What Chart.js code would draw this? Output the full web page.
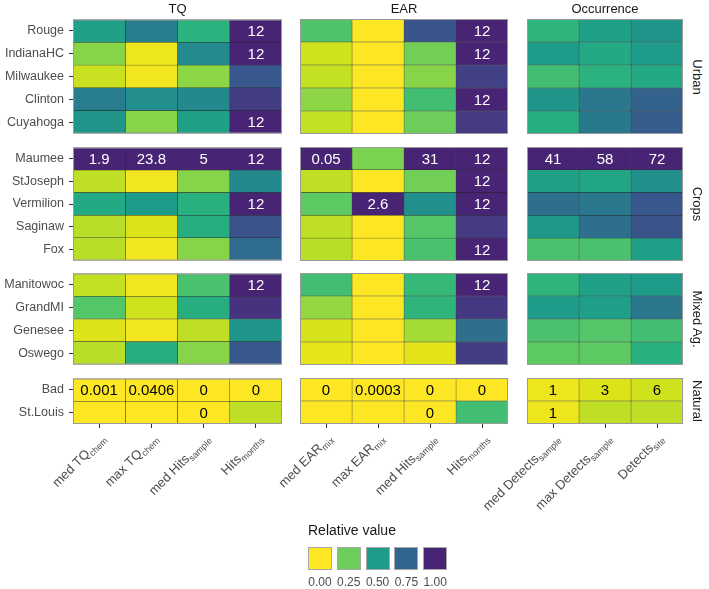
<!DOCTYPE html>
<html>
<head>
<meta charset="utf-8">
<script src="https://cdn.jsdelivr.net/npm/chart.js@4.4.0/dist/chart.umd.min.js"></script>
<style>
  body { margin: 0; background: #fff; font-family: "Liberation Sans", Arial, sans-serif; }
  #wrap { position: relative; width: 709px; height: 589px; overflow: hidden; }
  #wrap canvas { position: absolute; }
  .title { position: absolute; top: 1px; height: 16px; line-height: 16px; font-size: 13px; color: #1a1a1a; text-align: center; }
  .strip { position: absolute; width: 100px; height: 16px; line-height: 16px; font-size: 13px; color: #1a1a1a;
           text-align: center; white-space: nowrap; transform: rotate(90deg); }
  .legtitle { position: absolute; left: 308px; top: 522px; font-size: 14px; color: #1a1a1a; }
  .swatch { position: absolute; top: 547px; width: 22px; height: 21px; border: 1px solid #a8a8a8; }
  .leglab { position: absolute; top: 575px; width: 30px; text-align: center; font-size: 12px; color: #4d4d4d; }
</style>
</head>
<body>
<div id="wrap"></div>
<script>
// facet names
const metricTitles = ["TQ", "EAR", "Occurrence"];
const groupNames = ["Urban", "Crops", "Mixed Ag.", "Natural"];

// sites (rows)
const urbanSites = ["Rouge", "IndianaHC", "Milwaukee", "Clinton", "Cuyahoga"];
const cropSites = ["Maumee", "StJoseph", "Vermilion", "Saginaw", "Fox"];
const mixedSites = ["Manitowoc", "GrandMI", "Genesee", "Oswego"];
const naturalSites = ["Bad", "St.Louis"];

// columns: [text, subscript]
const tqCols = [["med TQ", "chem"], ["max TQ", "chem"], ["med Hits", "sample"], ["Hits", "months"]];
const earCols = [["med EAR", "mix"], ["max EAR", "mix"], ["med Hits", "sample"], ["Hits", "months"]];
const occCols = [["med Detects", "sample"], ["max Detects", "sample"], ["Detects", "site"]];

// relative values, one row per site
const urbanTQ = [[0.48, 0.64, 0.40, 1], [0.20, 0.03, 0.58, 1], [0.09, 0.02, 0.19, 0.81], [0.64, 0.57, 0.59, 0.91], [0.53, 0.20, 0.48, 1]];
const urbanEAR = [[0.31, 0, 0.82, 1], [0.08, 0, 0.24, 1], [0.10, 0, 0.20, 0.90], [0.19, 0, 0.34, 1], [0.10, 0, 0.25, 0.92]];
const urbanOcc = [[0.39, 0.48, 0.53], [0.50, 0.44, 0.50], [0.34, 0.40, 0.44], [0.53, 0.67, 0.76], [0.42, 0.66, 0.78]];
const cropTQ = [[1, 1, 1, 1], [0.11, 0.02, 0.20, 0.59], [0.44, 0.50, 0.41, 1], [0.12, 0.06, 0.42, 0.83], [0.12, 0.02, 0.20, 0.72]];
const cropEAR = [[1, 0.22, 1, 1], [0.11, 0, 0.24, 1], [0.28, 1, 0.56, 1], [0.11, 0, 0.30, 0.92], [0.12, 0, 0.32, 1]];
const cropOcc = [[1, 1, 1], [0.48, 0.46, 0.56], [0.71, 0.67, 0.81], [0.52, 0.71, 0.83], [0.32, 0.32, 0.49]];
const mixedTQ = [[0.10, 0.02, 0.32, 1], [0.30, 0.08, 0.42, 0.95], [0.06, 0.02, 0.11, 0.53], [0.12, 0.42, 0.20, 0.81]];
const mixedEAR = [[0.34, 0, 0.37, 1], [0.18, 0, 0.39, 0.93], [0.07, 0, 0.15, 0.71], [0.04, 0, 0.05, 0.91]];
const mixedOcc = [[0.39, 0.48, 0.50], [0.50, 0.49, 0.67], [0.32, 0.30, 0.34], [0.28, 0.28, 0.41]];
const naturalTQ = [[0, 0, 0, 0], [0, 0, 0, 0.11]];
const naturalEAR = [[0, 0, 0, 0], [0, 0, 0, 0.34]];
const naturalOcc = [[0.03, 0.06, 0.08], [0.03, 0.11, 0.11]];

// numbers printed in the cells
const urbanTQText = [["", "", "", "12"], ["", "", "", "12"], ["", "", "", ""], ["", "", "", ""], ["", "", "", "12"]];
const urbanEARText = [["", "", "", "12"], ["", "", "", "12"], ["", "", "", ""], ["", "", "", "12"], ["", "", "", ""]];
const urbanOccText = [];
const cropTQText = [["1.9", "23.8", "5", "12"], [], ["", "", "", "12"], [], []];
const cropEARText = [["0.05", "", "31", "12"], ["", "", "", "12"], ["", "2.6", "", "12"], [], ["", "", "", "12"]];
const cropOccText = [["41", "58", "72"]];
const mixedTQText = [["", "", "", "12"]];
const mixedEARText = [["", "", "", "12"]];
const mixedOccText = [];
const naturalTQText = [["0.001", "0.0406", "0", "0"], ["", "", "0", ""]];
const naturalEARText = [["0", "0.0003", "0", "0"], ["", "", "0", ""]];
const naturalOccText = [["1", "3", "6"], ["1", "", ""]];

const legendValues = [0, 0.25, 0.5, 0.75, 1];
const legendLabels = ["0.00", "0.25", "0.50", "0.75", "1.00"];

// viridis, reversed: 0 -> yellow, 1 -> purple
const VIRIDIS = ["#440154", "#471365", "#482475", "#463480", "#414487", "#3b528b", "#355f8d", "#2f6c8e",
  "#2a788e", "#25848e", "#21918c", "#1e9c89", "#22a884", "#2fb47c", "#44bf70", "#5ec962", "#7ad151",
  "#9bd93c", "#bddf26", "#dfe318", "#fde725"];
function hexRgb(h) { return [1, 3, 5].map(i => parseInt(h.substr(i, 2), 16)); }
function fillFor(v) {
  const t = (1 - 0.9 * v) * (VIRIDIS.length - 1);
  const i = Math.min(Math.floor(t), VIRIDIS.length - 2);
  const f = t - i;
  const a = hexRgb(VIRIDIS[i]), b = hexRgb(VIRIDIS[i + 1]);
  const c = a.map((x, k) => Math.round(x + (b[k] - x) * f));
  return `rgb(${c[0]},${c[1]},${c[2]})`;
}

const FONT = "'Liberation Sans', Arial, sans-serif";
const panelX = [73, 300, 527], panelW = [209, 208, 156];
const panelY = [19, 147, 273, 378], panelH = [115, 114, 92, 46];

// numbers inside cells + grey panel frame
const cellPlugin = {
  id: "cells",
  afterDatasetsDraw(chart, args, opts) {
    const { ctx, chartArea, scales } = chart;
    ctx.save();
    ctx.font = "15px " + FONT;
    ctx.textAlign = "center";
    ctx.textBaseline = "middle";
    opts.texts.forEach((row, ri) => {
      (row || []).forEach((txt, ci) => {
        if (!txt) return;
        ctx.fillStyle = opts.values[ri][ci] > 0.6 ? "#ffffff" : "#000000";
        ctx.fillText(txt, scales.x.getPixelForValue(ci + 0.5), scales.y.getPixelForValue(ri) + 1);
      });
    });
    ctx.strokeStyle = "#9a9a9a";
    ctx.lineWidth = 1;
    ctx.strokeRect(chartArea.left + 0.5, chartArea.top + 0.5, chartArea.width - 1, chartArea.height - 1);
    ctx.restore();
  }
};

// rotated column names with subscripts
const xLabelPlugin = {
  id: "xlabels",
  afterDraw(chart, args, opts) {
    if (!opts.cols) return;
    const { ctx, chartArea, scales } = chart;
    ctx.save();
    ctx.fillStyle = "#4d4d4d";
    opts.cols.forEach((c, i) => {
      const px = scales.x.getPixelForValue(i + 0.5);
      ctx.save();
      ctx.translate(px, chartArea.bottom + 8);
      ctx.rotate(-Math.PI / 4);
      ctx.font = "13px " + FONT;
      const wMain = ctx.measureText(c[0]).width;
      ctx.font = "9px " + FONT;
      const wSub = ctx.measureText(c[1]).width;
      ctx.font = "13px " + FONT;
      ctx.fillText(c[0], -(wMain + wSub), 10);
      ctx.font = "9px " + FONT;
      ctx.fillText(c[1], -wSub, 13);
      ctx.restore();
    });
    ctx.restore();
  }
};

const wrap = document.getElementById("wrap");

function addPanel(g, m, sites, cols, values, texts) {
  const isLeft = m === 0, isBottom = g === 3;
  const padL = isLeft ? 73 : (isBottom ? 110 : 0);
  const padT = 12, padB = isBottom ? 110 : 12;
  const canvas = document.createElement("canvas");
  canvas.width = panelW[m] + padL;
  canvas.height = panelH[g] + padT + padB;
  canvas.style.left = (panelX[m] - padL) + "px";
  canvas.style.top = (panelY[g] - padT) + "px";
  wrap.appendChild(canvas);

  const datasets = cols.map((c, ci) => ({
    data: sites.map(() => [ci, ci + 1]),
    backgroundColor: values.map(row => fillFor(row[ci])),
    borderColor: "rgba(25,25,25,0.85)",
    borderWidth: 0.5,
    borderSkipped: false,
    barPercentage: 1,
    categoryPercentage: 1,
    grouped: false
  }));

  new Chart(canvas, {
    type: "bar",
    data: { labels: sites, datasets: datasets },
    options: {
      indexAxis: "y",
      responsive: false,
      animation: false,
      events: [],
      layout: { padding: { left: isLeft ? 0 : padL, top: padT, right: 0, bottom: isBottom ? 0 : padB } },
      plugins: {
        legend: { display: false },
        tooltip: { enabled: false },
        cells: { texts: texts, values: values },
        xlabels: { cols: isBottom ? cols : null }
      },
      scales: {
        x: {
          type: "linear", min: 0, max: cols.length,
          display: isBottom,
          afterBuildTicks: s => { s.ticks = cols.map((c, i) => ({ value: i + 0.5 })); },
          afterFit: s => { if (isBottom) s.height = padB; },
          ticks: { display: false },
          grid: { drawOnChartArea: false, drawTicks: true, tickLength: 4, color: "#333333", offset: false },
          border: { display: false }
        },
        y: {
          display: isLeft,
          afterFit: s => { if (isLeft) s.width = padL; },
          ticks: { color: "#4d4d4d", padding: 5, font: { size: 12.5, family: FONT } },
          grid: { drawOnChartArea: false, drawTicks: true, tickLength: 4, color: "#333333", offset: false },
          border: { display: false }
        }
      }
    },
    plugins: [cellPlugin, xLabelPlugin]
  });
}

const groupSites = [urbanSites, cropSites, mixedSites, naturalSites];
const metricCols = [tqCols, earCols, occCols];
const panelValues = [
  [urbanTQ, urbanEAR, urbanOcc],
  [cropTQ, cropEAR, cropOcc],
  [mixedTQ, mixedEAR, mixedOcc],
  [naturalTQ, naturalEAR, naturalOcc]
];
const panelTexts = [
  [urbanTQText, urbanEARText, urbanOccText],
  [cropTQText, cropEARText, cropOccText],
  [mixedTQText, mixedEARText, mixedOccText],
  [naturalTQText, naturalEARText, naturalOccText]
];

groupSites.forEach((sites, g) => {
  metricCols.forEach((cols, m) => {
    addPanel(g, m, sites, cols, panelValues[g][m], panelTexts[g][m]);
  });
});

// facet titles
metricTitles.forEach((t, m) => {
  const d = document.createElement("div");
  d.className = "title";
  d.style.left = panelX[m] + "px";
  d.style.width = panelW[m] + "px";
  d.textContent = t;
  wrap.appendChild(d);
});

// strip labels on the right
groupNames.forEach((t, g) => {
  const d = document.createElement("div");
  d.className = "strip";
  d.style.left = (697 - 50) + "px";
  d.style.top = (panelY[g] + panelH[g] / 2 - 8) + "px";
  d.textContent = t;
  wrap.appendChild(d);
});

// legend
const lt = document.createElement("div");
lt.className = "legtitle";
lt.textContent = "Relative value";
wrap.appendChild(lt);
legendValues.forEach((v, i) => {
  const x = 308 + i * 28.8;
  const s = document.createElement("div");
  s.className = "swatch";
  s.style.left = x + "px";
  s.style.background = fillFor(v);
  wrap.appendChild(s);
  const l = document.createElement("div");
  l.className = "leglab";
  l.style.left = (x - 3) + "px";
  l.textContent = legendLabels[i];
  wrap.appendChild(l);
});
</script>
</body>
</html>
